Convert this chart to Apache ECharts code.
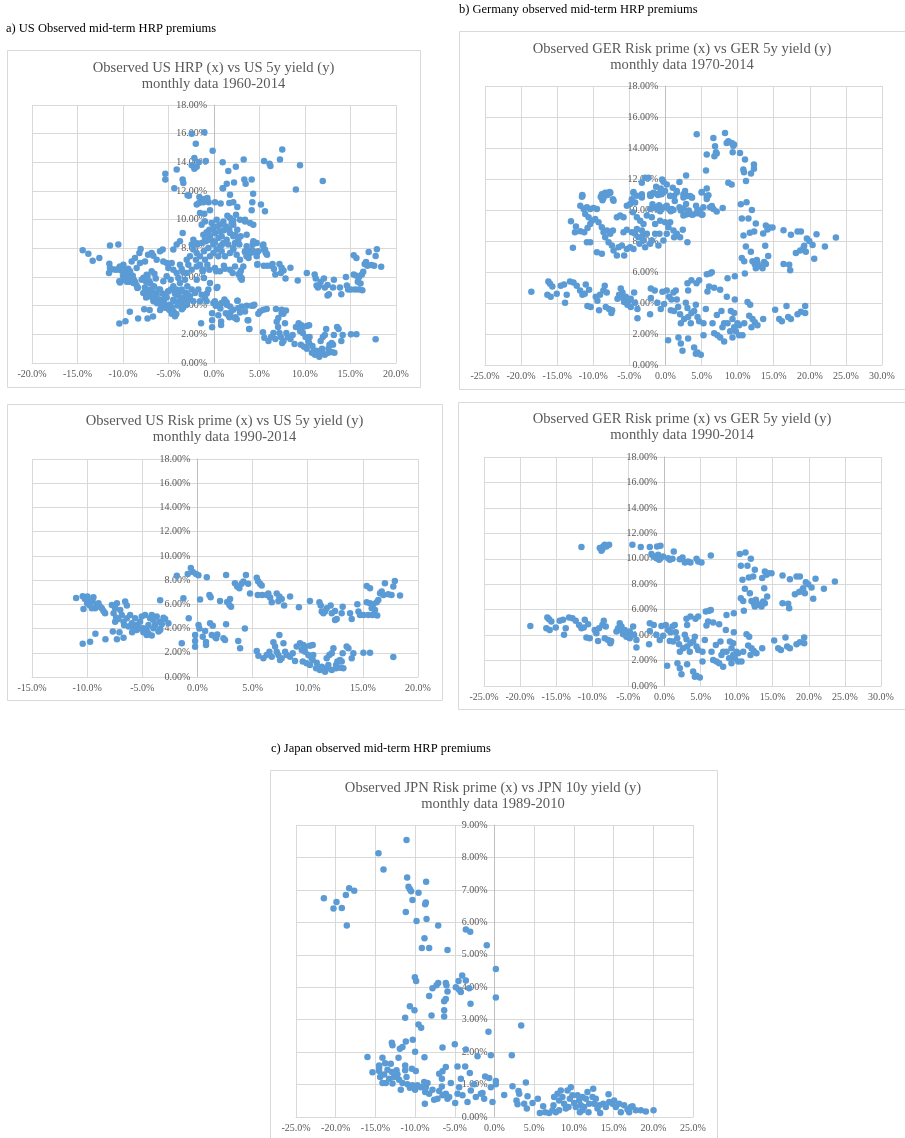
<!DOCTYPE html>
<html>
<head>
<meta charset="utf-8">
<script src="https://cdn.jsdelivr.net/npm/echarts@6/dist/echarts.min.js"></script>
<style>
  html, body { margin: 0; padding: 0; background: #fff; }
  #main { width: 905px; height: 1138px; }
</style>
</head>
<body>
<div id="main"></div>
<script>
// 数据：x = 风险溢价 (%), y = 收益率 (%)
var us1990 = [
  [-11.0,6.53],[-10.4,6.67],[-10.2,6.45],[-9.97,6.64],[-10.33,5.62],[-10.0,6.09],[-9.8,5.95],[-9.73,6.28],[-9.43,6.58],[-9.5,6.23],
  [-9.58,5.67],[-9.27,5.67],[-9.12,5.95],[-8.97,6.09],[-8.82,5.81],[-8.67,5.67],[-8.52,5.45],[-8.37,5.26],
  [-10.4,2.75],[-9.73,2.92],[-9.25,3.58],[-8.34,3.11],[-7.67,3.75],[-7.3,3.11],[-7.07,3.69],[-6.7,3.25],
  [-7.46,5.67],[-7.6,5.26],[-7.37,4.9],[-7.16,4.79],[-7.46,4.57],[-7.76,5.95],[-7.3,6.09],[-7.0,5.54],[-6.55,6.23],[-6.4,5.9],
  [-5.65,4.85],[-5.5,4.3],[-5.2,4.02],[-4.9,3.69],[-4.6,3.47],[-4.44,4.3],[-4.29,4.85],[-4.14,5.12],[-3.99,4.71],[-3.69,4.99],
  [-3.44,4.57],[-3.23,4.35],[-3.08,4.9],[-3.38,3.97],[-3.53,3.75],[-3.99,4.02],[-4.6,3.88],[-4.9,4.02],[-5.2,4.57],[-5.8,4.02],
  [-5.95,4.43],[-6.1,5.12],[-6.4,4.85],[-6.7,4.57],[-6.86,5.12],[-6.65,4.3],[-6.25,4.16],[-5.92,3.69],[-5.5,3.88],[-5.05,4.99],
  [-4.74,5.12],[-4.44,3.6],[-4.14,3.42],[-3.84,4.3],[-3.38,6.34],[-3.38,3.88],[-2.63,4.43],[-2.93,4.79],
  [-1.87,8.35],[-1.42,2.78],[-1.27,6.5],[-0.79,4.85],[-0.88,8.5],[-0.6,9.0],[-0.42,8.66],[-0.12,8.5],[0.09,8.4],[-0.21,3.47],
  [-0.21,2.98],[-0.21,2.5],[0.1,4.3],[0.18,4.0],[0.24,6.4],[0.48,3.33],[0.7,3.8],[0.78,2.9],[0.78,2.65],[0.85,8.24],
  [1.09,6.78],[1.2,6.58],[1.15,4.43],[1.39,4.24],[1.3,3.47],[1.6,3.33],[1.8,3.5],[1.7,3.2],[2.05,6.28],[2.36,3.2],
  [2.5,3.05],[2.6,8.43],[2.6,4.35],[2.7,6.2],[2.96,6.45],[2.9,5.95],[3.05,5.8],[3.4,7.74],[3.6,7.47],[3.8,7.33],
  [4.0,7.7],[4.17,7.88],[4.4,8.43],[4.6,7.7],[3.7,2.98],[3.87,2.37],[4.3,4.0],[4.77,6.9],[5.38,8.2],[5.5,7.9],
  [5.68,7.7],[5.83,7.55],[5.47,6.78],[5.86,6.78],[6.43,6.9],[6.59,6.56],[6.74,6.17],[7.19,6.9],[7.43,6.64],[7.64,6.45],
  [7.34,6.28],[7.86,5.9],[8.4,6.64],[6.28,6.78],[9.2,5.75],[10.2,6.28],
  [11.06,6.17],[11.18,5.9],[11.27,5.4],[11.42,5.26],[11.72,5.67],[12.08,5.9],[12.18,5.26],[12.48,5.45],[13.08,5.26],[13.17,5.81],
  [13.84,5.26],[13.99,4.79],[12.63,4.79],[12.48,4.71],[11.57,5.4],
  [14.5,6.0],[14.6,5.4],[14.74,5.12],[15.05,5.12],[15.35,7.52],[15.65,7.33],[15.35,6.17],[15.65,6.09],[15.95,6.0],[15.8,5.67],
  [15.89,5.12],[16.25,6.17],[16.3,5.07],[16.56,6.91],[16.71,7.05],[16.86,6.78],[17.0,7.74],[17.3,6.83],[17.6,6.78],[17.9,7.93],
  [17.76,7.47],[18.37,6.72],[16.4,6.36],[16.1,5.54],[15.5,5.12],
  [5.38,2.15],[5.53,1.76],[5.98,1.54],[6.28,1.82],[6.53,2.09],[6.74,1.68],[6.89,2.87],[7.04,2.51],[7.19,2.09],[7.34,1.82],
  [7.49,1.4],[7.64,1.54],[7.43,3.47],[7.8,2.78],[7.95,2.09],[8.1,1.82],[8.4,1.68],[8.64,1.96],[8.85,1.32],[9.0,2.51],
  [9.3,2.78],[9.46,2.23],[9.6,2.64],[9.76,2.09],[9.9,1.13],[10.2,0.99],[10.45,1.4],[10.5,1.82],[10.76,0.72],[10.97,0.85],
  [11.1,0.58],[11.27,0.85],[11.42,0.72],[11.57,0.44],[11.72,1.54],[11.87,0.99],[11.96,1.82],[12.18,1.96],[12.33,2.37],[12.57,0.99],
  [12.69,1.27],[12.93,1.4],[13.08,1.27],[13.23,0.72],[13.17,1.96],[13.53,2.51],[13.69,2.37],[13.99,1.54],[14.14,1.96],[15.05,2.01],
  [15.65,2.01],[17.76,1.65],[12.18,0.58],[11.87,0.72],[12.57,0.72],[12.93,0.77],[10.82,1.18],[10.36,1.54],[10.06,1.82],[9.55,1.27],
  [9.76,2.51],[10.2,2.59],[10.45,2.64]
];

var us1960extra = [
  [-2.45,16.0],[-1.06,16.1],[-2.0,15.3],[-0.15,14.8],[-2.16,14.3],[-2.16,13.55],[-2.45,13.8],[-1.7,14.0],[-0.9,14.1],[-1.9,13.7],
  [-5.35,13.2],[-5.35,12.8],[-4.1,13.5],[-3.45,12.8],[-3.37,12.55],[-4.36,12.2],[-2.9,11.7],[0.95,14.0],[1.57,13.4],[2.4,13.7],
  [3.26,14.2],[1.4,12.5],[2.2,12.6],[3.33,12.8],[3.48,12.5],[4.14,12.8],[0.95,12.2],[4.3,11.8],[5.5,14.1],[6.1,13.9],
  [6.2,13.75],[7.25,14.2],[7.5,14.9],[9.45,13.8],[11.95,12.7],[9.0,12.1],
  [-2.75,11.67],[-1.61,11.58],[-1.36,11.35],[-1.06,11.44],[-0.73,11.51],[-1.9,11.05],[-1.65,11.16],[-1.17,11.21],[-0.59,11.21],[-1.54,10.47],
  [-1.06,10.42],[-0.44,10.65],[0.11,11.21],[0.73,11.12],[1.68,11.16],[2.12,11.21],[2.56,10.88],[1.76,11.74],[4.21,11.21],[4.14,10.65],
  [5.16,11.05],[5.6,10.58],[1.0,12.2],
  [1.47,10.28],[1.76,10.12],[1.94,9.77],[2.12,9.95],[1.03,9.88],[0.66,9.65],[0.29,9.53],[-0.07,9.42],[-0.51,9.3],[-0.81,9.12],
  [-1.17,8.95],[-0.44,8.84],[0.11,9.07],[0.66,9.19],[1.32,9.53],[2.12,9.65],[2.56,9.3],[2.93,8.84],[2.67,8.6],[2.12,8.84],
  [1.76,9.07],[1.39,8.6],[1.03,8.37],[0.66,8.14],[0.29,7.91],[-0.07,7.67],[-0.44,7.44],[-0.99,7.21],[-1.54,7.44],[-1.9,7.67],
  [-2.27,7.91],[-2.64,7.44],[-3.0,7.21],[-3.44,9.07],[-3.74,8.49],[-4.1,8.26],[-4.47,7.91],[-2.45,8.26],[-1.9,8.26],[-1.36,8.37],
  [-0.62,8.02],[0.48,8.72],[0.84,7.79],[1.21,7.44],[1.76,7.67],[2.12,8.02],[2.49,7.56],[2.86,7.21],[3.22,6.74],[3.59,7.44],
  [3.96,7.67],[4.32,7.79],[3.41,10.0],[3.96,9.77],[4.32,9.65],[4.32,8.49],[3.59,8.14],[2.86,6.28],[3.04,5.93],[2.31,6.74],
  [1.76,6.51],[0.66,6.4],[0.11,6.63],[-0.51,6.51],[-1.25,6.4],[-1.9,6.74],[-2.45,6.51],[-3.0,6.28],[-3.55,6.56],[-3.19,5.81],
  [-1.9,5.81],[-1.1,5.93],[-0.44,5.58],[0.29,5.23],[2.12,7.91],[4.69,8.37],[3.77,7.79],[1.1,9.26],[1.68,9.35],[2.31,8.95],
  [2.78,8.26],[3.41,7.79],[0.48,7.44],[-0.07,8.26],[-1.1,7.79],[-1.98,7.21],[-2.82,6.86],[-1.54,6.86],[-0.73,6.86],[-0.37,8.6],
  [-0.99,8.6],[-2.27,8.6],[0.84,8.84],[1.57,8.26],[2.31,8.37],[3.59,8.95],[4.25,8.26],[4.69,7.67],[4.87,7.79],[-1.36,9.65],
  [-0.99,9.88],[-0.26,9.77],[0.29,10.0],[2.42,10.35],[2.86,10.0],[3.41,9.88],
  [5.42,8.26],[5.6,7.91],[5.79,7.63],[4.76,6.86],[4.69,7.44],
  [-14.43,7.86],[-13.81,7.63],[-13.33,7.14],[-12.6,7.33],[-11.43,8.19],[-10.51,8.26],[-11.5,6.93],[-11.43,6.63],[-11.54,6.28],[-8.06,7.95],
  [-7.25,7.56],[-6.85,7.67],[-6.67,7.49],[-5.64,7.91],[-5.93,7.79],[-4.65,6.98],[-3.74,6.86],[-8.68,7.33],[-9.05,7.09],[-8.5,6.63],
  [-8.13,6.98],[-7.58,7.09],[-6.3,7.21],[-5.57,7.09],[-5.2,6.98],[-5.02,6.63],[-4.47,6.51],[-4.1,6.28],[-3.92,5.93],[-3.74,5.58],
  [-3.55,5.12],[-10.7,6.51],[-10.33,6.74],[-9.96,6.4],[-9.6,6.16],[-9.23,6.4],[-8.94,6.09],[-10.4,5.7],[-9.96,5.81],[-9.41,5.7],
  [-8.86,5.58],[-8.42,5.23],[-7.95,5.81],[-7.4,6.16],[-6.85,6.4],[-7.1,5.7],[-6.59,5.35],[-6.85,5.0],[-6.3,4.77],[-5.93,5.12],
  [-5.57,5.7],[-5.2,6.05],[-4.76,5.81],[-4.47,5.35],[-5.02,5.0],[-5.38,4.65],[-5.75,4.3],[-6.3,4.42],[-6.74,4.53],[-7.22,4.65],
  [-7.4,5.12],[-7.77,4.88],[-4.47,4.42],[-4.1,4.77],[-3.92,4.07],[-4.84,4.07],[-5.2,3.84],[-4.65,3.44],[-4.29,3.26],[-8.2,7.67],
  [-9.96,6.86],[-2.93,5.35],[-2.45,5.12],[-2.09,4.88],[-1.72,5.12],[-1.36,4.77],[-0.99,4.53],[-0.62,5.12],[-2.64,4.65],[-3.19,4.42],
  [-3.0,4.07],[-2.27,4.3],[-1.54,4.3],[0.37,5.3],[-1.17,6.51],
  [-0.81,4.3],[-0.07,4.19],[0.48,4.07],[0.84,4.19],[1.39,4.07],[1.76,3.95],[2.12,3.72],[2.67,3.84],[2.56,4.35],[3.04,3.95],
  [3.59,4.0],[4.14,4.0],[4.43,4.07],[3.77,2.98],[3.88,2.37],[1.57,3.37],[1.76,3.26],[2.31,3.14],[2.86,3.53],[3.41,3.6],
  [5.05,3.6],[5.42,3.72],[5.79,3.77],[4.87,3.44],[6.81,3.77],[7.44,3.72],[7.91,3.67],[7.62,3.44],[7.07,3.14]
];

var ger1990 = [
  [-11.5,10.92],[-8.96,10.84],[-8.73,10.63],[-8.5,10.97],[-8.27,11.1],[-8.6,10.76],[-7.67,11.1],[-8.04,10.97],[-4.44,11.1],[-3.28,10.92],
  [-2.03,10.92],[-1.02,10.97],[-0.55,11.02],[-1.8,10.37],[-1.48,10.18],[-1.11,10.05],[-0.88,10.31],[-0.55,10.05],[-0.18,10.18],[-0.74,9.92],
  [0.51,10.05],[0.74,9.92],[1.29,10.58],[1.11,10.0],[2.5,10.1],[2.82,9.71],[3.28,9.79],[3.6,9.71],[4.44,10.0],[4.67,9.79],
  [5.13,9.71],[6.42,10.26],[2.13,9.97],
  [10.44,10.37],[11.23,10.5],[11.97,10.0],[10.58,9.45],[11.5,9.45],[10.81,8.35],[12.52,9.13],[11.69,8.53],[12.29,8.61],[13.54,8.48],
  [13.91,9.0],[14.37,8.87],[14.83,8.87],[14.14,8.74],[11.14,7.64],[11.83,7.3],[13.82,7.69],[14.23,7.03],[10.58,6.9],[10.91,6.69],
  [11.0,5.91],[12.06,6.69],[12.38,6.5],[12.66,6.77],[12.52,6.25],[12.99,6.38],[13.45,6.25],[13.68,6.64],[13.91,6.51],[12.75,6.59],
  [16.36,8.69],[17.38,8.4],[18.3,8.61],[18.76,8.61],[18.07,7.22],[18.67,7.38],[19.13,7.56],[19.45,7.3],[19.59,8.16],[19.92,8.0],
  [20.38,7.74],[20.61,6.85],[20.93,8.43],[22.09,7.64],[23.61,8.22],[16.36,6.51],[17.14,6.46],[17.28,6.12],[19.22,7.69],
  [-18.58,4.72],[-16.22,5.38],[-15.99,5.25],[-15.67,5.07],[-16.36,4.54],[-15.9,4.41],[-15.06,4.59],[-14.51,5.12],[-14.05,5.2],[-13.68,4.54],
  [-13.91,4.02],[-13.22,5.38],[-12.75,5.33],[-12.29,5.12],[-11.83,4.8],[-11.5,4.54],[-11.18,4.59],[-11.04,5.2],[-10.58,4.86],[-10.81,3.81],
  [-10.35,3.75],[-9.66,4.41],[-9.43,4.15],[-9.2,3.54],[-9.06,4.54],[-8.6,4.8],[-8.41,5.12],[-8.13,4.67],[-8.27,3.75],[-7.81,3.62],
  [-7.49,3.36],[-7.39,3.54],[-6.65,4.28],[-6.19,4.93],[-5.96,4.67],[-5.73,4.07],[-5.5,4.41],[-5.27,3.88],[-4.81,4.28],[-4.34,4.67],
  [-4.21,4.02],[-3.88,3.62],[-3.88,3.02],[-4.81,3.75],[-2.03,4.93],[-1.48,4.8],[-2.03,4.33],[-2.13,3.28],[-1.11,4.02],[-0.65,3.62],
  [-0.18,3.94],[-6.42,4.54],[-5.87,4.33],[-5.04,4.15],
  [-0.42,4.72],[0.18,4.8],[0.51,4.41],[0.83,4.23],[1.11,4.67],[1.43,4.8],[1.57,4.23],[1.76,3.75],[2.03,3.28],[1.2,3.49],
  [0.74,3.54],[0.37,1.6],[1.8,1.78],[2.13,1.39],[2.36,0.92],[3.14,1.71],[3.97,1.13],[4.21,0.73],[4.9,0.66],[4.44,0.81],
  [2.13,2.7],[2.59,2.97],[2.82,4.02],[3.05,3.67],[3.14,3.1],[3.51,2.7],[3.6,3.36],[3.97,3.49],[4.21,3.88],[4.44,3.1],
  [4.67,2.83],[3.05,5.28],[3.6,5.46],[4.3,5.28],[4.67,5.46],[3.14,4.8],[5.27,1.92],[5.27,2.7],[5.59,3.62],[5.82,4.75],
  [6.05,5.07],[5.73,5.85],[6.19,5.91],[6.42,5.98],[6.75,4.99],[7.58,4.86],[8.5,4.41],[8.6,5.59],[9.61,5.72],[9.61,4.23],
  [6.52,2.7],[6.75,2.05],[7.21,1.92],[7.58,1.78],[7.9,2.44],[8.13,1.52],[7.12,3.23],[7.76,3.49],[9.06,3.49],[9.29,2.97],
  [9.52,2.44],[8.96,2.18],[9.29,1.78],[9.75,2.18],[10.21,1.92],[10.67,1.92],[10.21,2.57],[10.91,2.7],[11.37,4.07],[11.74,3.88],
  [11.6,3.18],[12.06,2.97],[12.38,2.76],[12.75,2.57],[13.54,2.97],[11.92,2.44],[8.6,2.7],[8.13,2.7],[9.98,2.7],[9.52,3.36],
  [15.2,3.57],[15.76,2.97],[16.13,2.83],[16.77,3.81],[17.0,3.1],[17.38,2.97],[18.3,3.28],[18.76,3.44],[19.36,3.81],[19.36,3.36]
];

var ger1970extra = [
  [4.33,14.88],[6.64,14.65],[6.87,14.11],[7.0,13.73],[7.1,13.64],[6.78,13.47],[5.72,13.58],[5.62,12.55],[8.25,14.97],[8.48,14.32],
  [8.71,14.43],[9.17,14.32],[9.4,14.15],[9.5,14.22],[9.31,13.73],[10.33,13.68],[11.02,13.26],[10.79,12.62],[10.88,12.44],[12.26,12.94],
  [12.26,12.66],[11.85,12.36],[11.16,11.87],[8.71,11.76],[9.17,11.65],[5.03,11.16],[5.72,11.38],[5.95,10.95],[5.72,10.9],[2.86,12.23],
  [1.94,11.8],[1.01,11.44],[1.57,11.23],[1.2,10.9],[0.18,11.65],[-0.28,11.82],[-0.46,11.97],[-0.65,11.38],[-0.83,11.08],[-0.05,11.23],
  [0.65,10.9],[-1.29,11.5],[-1.66,11.12],[-2.12,11.01],[-2.35,12.08],[-2.81,12.08],[-3.27,11.76],[-3.27,11.01],[-4.43,11.16],[-4.66,10.69],
  [-11.53,10.97],[-8.81,11.01],[-8.35,11.12],[-7.75,11.16],[-8.58,10.9],[-7.28,10.69],[2.49,11.01],[2.72,11.23],[3.41,10.9],[3.69,10.8],
  [3.04,10.9],
  [-11.57,10.86],[-11.8,10.28],[-11.34,10.06],[-10.88,10.17],[-10.42,10.06],[-9.96,10.13],[-9.5,10.06],[-11.11,9.74],[-10.65,9.53],[-10.19,9.31],
  [-9.73,9.42],[-9.27,9.21],[-13.09,9.27],[-12.4,8.93],[-12.54,8.57],[-11.8,8.63],[-11.25,8.57],[-10.79,8.84],[-10.42,9.1],[-10.88,7.92],
  [-10.42,7.92],[-12.82,7.56],[-9.5,7.28],[-8.81,7.17],[-8.81,8.89],[-8.58,8.57],[-8.35,8.24],[-8.11,8.67],[-7.65,8.46],[-7.28,8.67],
  [-7.88,7.92],[-7.42,7.71],[-7.19,7.39],[-6.73,7.07],[-6.5,7.6],[-6.04,7.71],[-5.72,7.07],[-5.35,7.49],[-4.89,7.6],[-4.43,7.49],
  [-5.81,8.57],[-5.35,8.72],[-4.66,8.57],[-4.2,8.46],[-3.73,8.24],[-3.27,8.67],[-3.04,8.03],[-2.58,8.46],[-1.89,8.03],[-1.43,8.46],
  [-0.97,7.71],[-2.12,7.82],[-2.81,7.6],[-3.6,7.82],[-8.81,10.92],[-8.35,11.03],[-7.65,11.13],[-7.19,10.6],[-6.73,9.53],[-6.27,9.64],
  [-5.81,9.53],[-5.35,10.28],[-4.89,10.39],[-4.2,10.49],[-4.52,9.85],[-3.96,9.53],[-3.5,9.31],[-3.04,9.1],[-2.58,9.64],[-2.12,10.06],
  [-1.89,9.53],[-1.43,9.1],[-0.74,9.31],[-0.05,9.21],[0.41,8.89],[0.65,9.21],[1.11,8.67],[1.2,8.24],[1.57,8.46],[2.03,8.24],
  [2.4,8.72],[3.04,7.92],[0.18,8.46],[-0.28,8.03],[-0.83,8.46],[-3.96,10.92],[-3.27,10.81],[-2.12,10.92],[-1.2,11.03],[-0.28,11.13],
  [0.65,10.92],[1.57,11.13],[2.49,10.81],[3.64,10.81],[5.03,11.13],[5.72,10.71],[4.24,10.28],[4.79,9.96],[5.26,10.17],[6.18,10.17],
  [6.64,10.06],[7.1,9.91],[7.93,10.13],[2.49,9.64],[3.04,9.74],[3.78,9.7],[4.33,9.79],[5.03,9.7],[0.18,10.28],[0.88,10.06],
  [1.94,10.17],[2.86,10.39],[3.23,9.96],[-3.96,8.78],[-3.13,8.35]
];

var jpn1989 = [
  [-11.08,8.54],[-14.61,8.13],[-13.98,7.63],[-11.0,7.38],[-8.61,7.25],[-10.83,7.1],[-10.66,7.02],[-10.5,6.96],[-9.57,6.91],[-10.33,6.69],
  [-8.65,6.61],[-8.73,6.56],[-11.17,6.32],[-9.82,6.04],[-8.56,6.1],[-7.09,5.9],[-3.61,5.78],[-3.06,5.71],[-8.82,5.51],
  [-21.49,6.74],[-19.9,6.63],[-20.28,6.43],[-19.23,6.44],[-18.72,6.84],[-18.3,7.05],[-17.67,6.97],[-18.6,5.9],
  [-9.15,5.21],[-8.23,5.21],[-5.92,5.15],[-0.97,5.29],[0.17,4.56],[0.17,3.68],[-10.03,4.31],[-9.87,4.19],[-4.07,4.36],[-4.53,4.19],
  [-3.61,4.21],[-7.09,4.13],[-7.3,4.06],[-6.13,4.13],[-6.05,4.06],[-7.81,3.97],[-4.87,4.0],[-4.45,3.92],[-4.24,3.85],[-3.19,3.97],
  [-5.92,3.87],[-8.23,3.73],[-6.13,3.64],[-6.34,3.57],[-3.02,3.49],[-10.66,3.41],[-10.08,3.29],[-6.34,3.29],[-11.25,3.06],[-7.93,3.13],
  [-6.34,3.1],[-9.57,2.85],[-9.24,2.75],[-0.76,2.63],[3.36,2.82],[-12.93,2.29],[-12.85,2.21],[-11.17,2.33],[-10.29,2.38],[-11.59,2.16],
  [-11.92,2.1],[-10.0,2.01],[-6.55,2.14],[-5.0,2.24],[-3.61,2.08],[-16.0,1.85],[-14.11,1.83],[-12.09,1.83],[-8.82,1.84],[-2.14,1.87],
  [-0.46,1.9],[2.18,1.9],[-15.37,1.38],[-14.53,1.52],[-14.53,1.42],[-13.77,1.66],[-13.06,1.64],[-14.4,1.23],[-13.9,1.31],[-13.69,1.05],
  [-13.27,1.18],[-12.93,1.39],[-12.64,1.23],[-12.22,1.31],[-12.01,1.15],[-11.59,1.05],[-11.25,1.59],[-11.25,1.44],[-11.08,1.23],[-11.8,0.84],
  [-10.96,1.01],[-10.66,0.9],[-10.33,0.98],[-10.41,1.49],[-9.91,1.42],[-10.0,0.84],[-9.7,0.98],[-9.28,0.92],[-8.86,1.08],[-8.65,0.92],
  [-8.44,1.05],[-8.73,0.77],[-8.23,0.72],[-7.81,0.84],[-7.6,0.53],[-8.77,0.41],[-7.18,0.56],[-6.97,1.33],[-6.55,1.41],[-6.63,1.18],
  [-6.63,0.94],[-6.97,0.8],[-6.13,1.54],[-6.13,0.72],[-6.55,0.67],[-5.5,1.05],[-5.71,0.62],[-5.92,0.56],[-4.95,0.43],[-4.66,1.56],
  [-4.24,1.18],[-4.45,0.92],[-4.66,0.72],[-4.03,0.67],[-3.69,1.56],[-3.11,1.36],[-3.4,0.46],[-2.98,0.82],[-2.56,1.01],[-2.35,0.62],
  [-1.72,0.72],[-1.3,0.56],[-1.51,0.74],[-1.18,1.25],[-0.67,1.2],[-0.46,0.92],[-0.25,0.46],[0.17,1.11],[0.17,1.01],[1.22,0.68],
  [2.27,0.95],[2.77,0.51],[2.9,0.39],[3.02,0.8],[3.11,0.72],[3.95,1.06],[3.74,0.41],[4.07,0.26],[4.16,0.64],[4.79,0.43],
  [5.46,0.56],[5.71,0.12],[6.13,0.33],[6.38,0.15],[6.88,0.12],[7.3,0.21],[7.43,0.36],[7.72,0.15],[8.14,0.21],[7.51,0.62],
  [7.93,0.72],[8.35,0.82],[8.14,0.51],[8.56,0.62],[8.77,0.41],[8.98,0.26],[9.19,0.82],[9.61,0.92],[9.49,0.56],[9.82,0.67],
  [10.03,0.43],[10.24,0.31],[10.45,0.67],[10.66,0.51],[10.87,0.36],[11.08,0.62],[11.29,0.31],[11.5,0.56],[11.71,0.77],[11.92,0.41],
  [11.84,0.15],[12.34,0.62],[12.43,0.87],[12.55,0.41],[12.76,0.56],[13.18,0.36],[13.31,0.12],[13.69,0.41],[14.02,0.31],[14.36,0.7],
  [14.44,0.46],[14.86,0.41],[15.28,0.31],[15.7,0.41],[15.91,0.15],[16.33,0.36],[16.75,0.23],[17.17,0.31],[17.38,0.33],[17.8,0.21],
  [18.43,0.21],[19.06,0.17],[20.03,0.21],[16.96,0.15],[15.07,0.51],[12.97,0.26],[10.75,0.15],[9.32,0.31],[11.08,0.21],
  [-12.85,1.03],[-12.34,1.44],[-13.48,1.46],[-14.11,1.05],[-14.53,1.59]
];

// 坐标轴范围
var xRanges = [[-20, 20], [-25, 30], [-15, 20], [-25, 30], [-25, 25]];
var yRanges = [[0, 18], [0, 18], [0, 18], [0, 18], [0, 9]];
var yIntervals = [2, 2, 2, 2, 1];

var titles = [
    ['Observed US HRP (x) vs US 5y yield (y)', 'monthly data 1960-2014'],
    ['Observed GER Risk prime (x) vs GER 5y yield (y)', 'monthly data 1970-2014'],
    ['Observed US Risk prime (x) vs US 5y yield (y)', 'monthly data 1990-2014'],
    ['Observed GER Risk prime (x) vs GER 5y yield (y)', 'monthly data 1990-2014'],
    ['Observed JPN Risk prime (x) vs JPN 10y yield (y)', 'monthly data 1989-2010']
];
var headers = [
    'a) US Observed mid-term HRP premiums',
    'b) Germany observed mid-term HRP premiums',
    'c) Japan observed mid-term HRP premiums'
];

var seriesData = [
    us1990.concat(us1960extra),
    ger1990.concat(ger1970extra),
    us1990,
    ger1990,
    jpn1989
];

(function () {
    'use strict';
    var SERIF = '"Liberation Serif", "Times New Roman", serif';
    var GRID_C = '#d9d9d9';
    var TEXT_C = '#595959';

    var grids = [
        { left: 32, top: 105, width: 364, height: 258 },
        { left: 485, top: 86, width: 397, height: 279 },
        { left: 32, top: 459, width: 386, height: 218 },
        { left: 484, top: 457, width: 397, height: 229 },
        { left: 296, top: 825, width: 397, height: 292 }
    ];
    // 外框
    var boxes = [
        [7, 50, 413, 337],
        [459, 31, 450, 358],
        [7, 404, 435, 296],
        [458, 402, 450, 307],
        [270, 770, 447, 380]
    ];
    var titlePos = [[213.5, 68], [682, 49], [224.5, 421], [682, 419], [493, 788]];
    var headerPos = [[6, 29], [459, 10], [271, 749]];

    var xAxes = [], yAxes = [], series = [], graphics = [];

    grids.forEach(function (g, i) {
        g.containLabel = false;
        g.outerBoundsMode = 'none';
        var xr = xRanges[i];
        // y 轴放在 x = 0 处（Excel 样式）
        var zeroShift = g.width * (0 - xr[0]) / (xr[1] - xr[0]);
        xAxes.push({
            type: 'value', gridIndex: i,
            min: xr[0], max: xr[1], interval: 5,
            axisLine: { show: true, onZero: false, lineStyle: { color: GRID_C } },
            axisTick: { show: false },
            splitLine: { show: true, lineStyle: { color: GRID_C } },
            axisLabel: {
                formatter: function (v) { return v.toFixed(1) + '%'; },
                fontFamily: SERIF, fontSize: 10, color: TEXT_C, margin: 6,
                showMinLabel: true, showMaxLabel: true
            }
        });
        yAxes.push({
            type: 'value', gridIndex: i, position: 'left',
            offset: -zeroShift,
            min: yRanges[i][0], max: yRanges[i][1], interval: yIntervals[i],
            axisLine: { show: true, onZero: false, lineStyle: { color: '#bfbfbf' } },
            axisTick: { show: false },
            splitLine: { show: true, lineStyle: { color: GRID_C } },
            axisLabel: {
                formatter: function (v) { return v.toFixed(2) + '%'; },
                fontFamily: SERIF, fontSize: 10, color: TEXT_C, margin: 7
            }
        });
        series.push({
            type: 'scatter', xAxisIndex: i, yAxisIndex: i,
            data: seriesData[i],
            symbolSize: 6.5,
            itemStyle: { color: '#5b9bd5', opacity: 1 },
            silent: true
        });

        var b = boxes[i];
        graphics.push({
            type: 'rect', z: -10,
            shape: { x: b[0] + 0.5, y: b[1] + 0.5, width: b[2], height: b[3] },
            style: { fill: '#fff', stroke: GRID_C, lineWidth: 1 }
        });
        var t = titlePos[i];
        titles[i].forEach(function (line, k) {
            graphics.push({
                type: 'text', z: 10,
                style: {
                    text: line, x: t[0], y: t[1] + k * 16.5,
                    font: '14.6px ' + SERIF, fill: TEXT_C,
                    textAlign: 'center', textVerticalAlign: 'middle',
                    align: 'center', verticalAlign: 'middle'
                }
            });
        });
    });

    headers.forEach(function (h, i) {
        graphics.push({
            type: 'text', z: 10,
            style: {
                text: h, x: headerPos[i][0], y: headerPos[i][1],
                font: '12.5px ' + SERIF, fill: '#000',
                textAlign: 'left', textVerticalAlign: 'middle',
                align: 'left', verticalAlign: 'middle'
            }
        });
    });

    var myChart = echarts.init(document.getElementById('main'));
    myChart.setOption({
        animation: false,
        backgroundColor: '#fff',
        grid: grids,
        xAxis: xAxes,
        yAxis: yAxes,
        series: series,
        graphic: graphics
    });
    window.addEventListener('resize', function () {
        myChart.resize();
    });
})();
</script>
</body>
</html>
